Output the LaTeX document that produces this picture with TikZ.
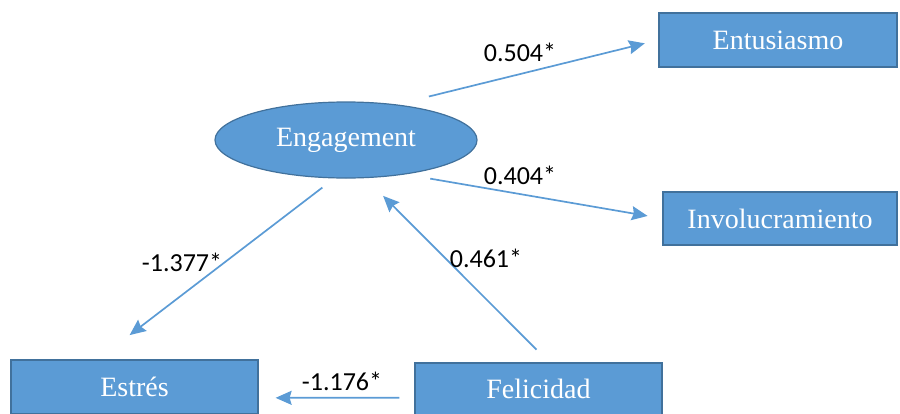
\documentclass[tikz,border=0pt]{standalone}
\usepackage{fontspec}
\setmainfont{Liberation Serif}
\newfontfamily\lblfont{Carlito}
\usetikzlibrary{arrows.meta,shapes.geometric}
\definecolor{boxblue}{HTML}{5B9BD5}
\definecolor{rimblue}{HTML}{41719C}

\begin{document}
\begin{tikzpicture}[x=0.5pt,y=-0.5pt]
	\tikzset{factor/.style={draw=rimblue, line width=0.6pt, fill=boxblue, text=white, inner sep=0pt, font=\fontsize{14}{16}\selectfont},
		obsbox/.style={factor, rectangle, minimum width=123.5pt, minimum height=27pt},
		latent/.style={factor, ellipse, minimum width=131pt, minimum height=38pt},
		path/.style={draw=boxblue, line width=0.85pt, -{Stealth[length=8pt,width=7pt,inset=1pt]}},
		coef/.style={inner sep=0pt, font=\lblfont\fontsize{13}{15}\selectfont}}
	\useasboundingbox (0,0) rectangle (900,413);
	
	\node[latent] (eng) at (346,140) {Engagement};
	\node[obsbox, minimum width=119pt] (ent) at (778,40) {Entusiasmo};
	\node[obsbox, minimum width=117pt, minimum height=26.5pt] (inv) at (780,218.5) {Involucramiento};
	\node[obsbox] (est) at (134.5,387) {Estrés};
	\node[obsbox, minimum height=26pt] (fel) at (538.5,389) {Felicidad};
	
	\draw[path, shorten <=16.5pt, shorten >=7pt] (eng.35) -- (ent.west);
	\draw[path, shorten <=12.5pt, shorten >=7.5pt] (eng.-30) -- (inv.west);
	\draw[path, shorten <=7.5pt, shorten >=20pt] (eng.-107) -- (est.143);
	\draw[path, shorten <=9pt, shorten >=12.5pt] (fel.68) -- (eng.-63);
	\draw[path, shorten <=7.5pt, shorten >=8.5pt] (fel.184) -- (est.-5);
	
	\foreach \val/\x/\y [count=\i] in {0.504*/520/52, 0.404*/520/175, -1.377*/182/262, 0.461*/486/258, -1.176*/342/381}{
		\node[coef] (c\i) at (\x,\y) {\val};
	}
\end{tikzpicture}
\end{document}
